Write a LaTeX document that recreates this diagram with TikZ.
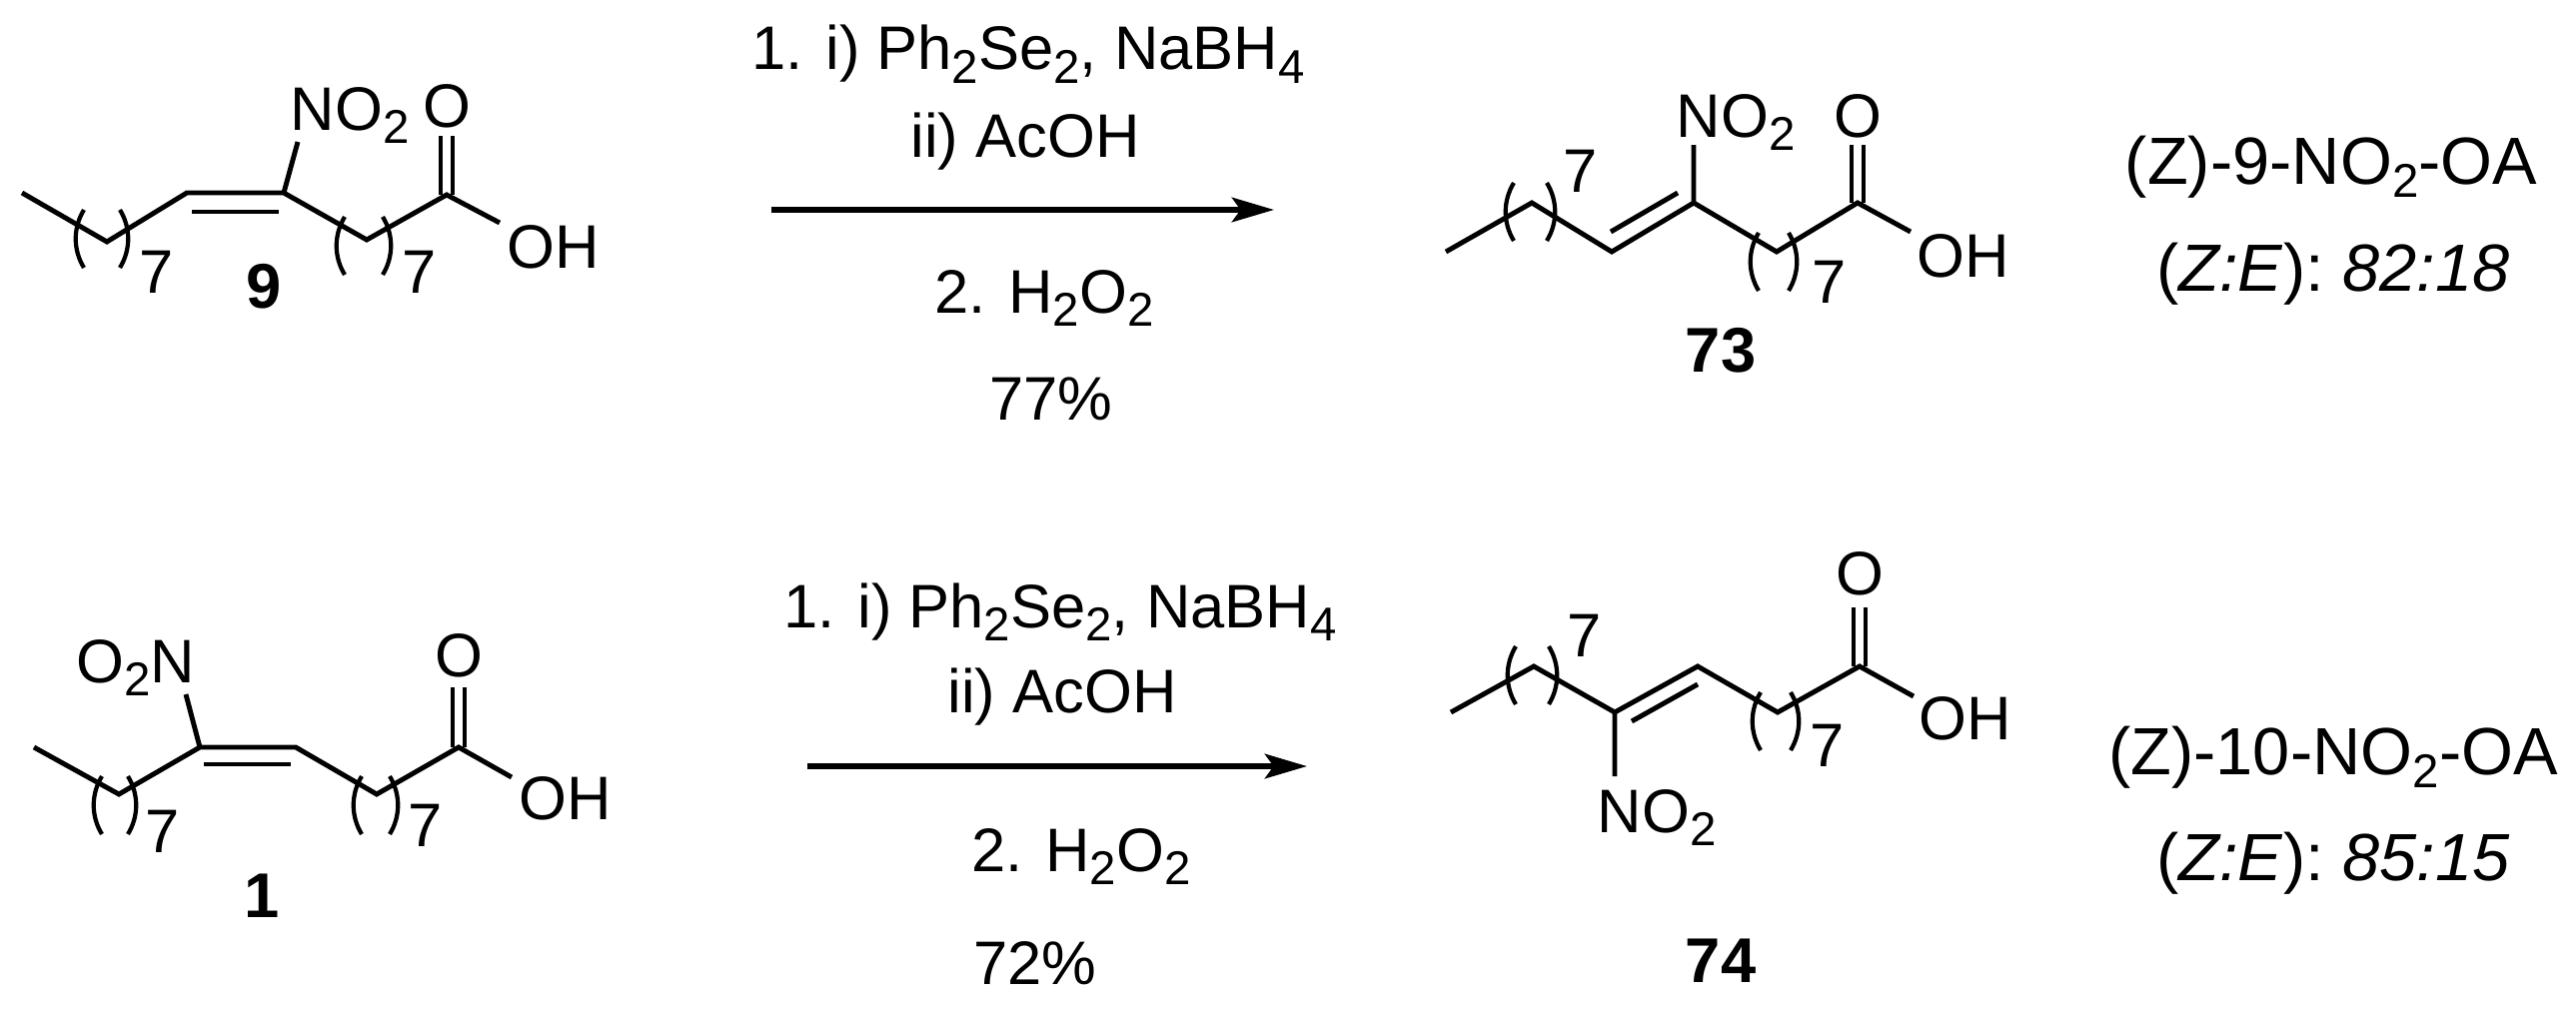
\documentclass[tikz,border=0pt]{standalone}
\usepackage{fontspec}
\setmainfont{Liberation Sans}
\usetikzlibrary{arrows.meta}
\newcommand\sbs[1]{\raisebox{-3.8pt}{\fontsize{13.5}{14}\selectfont #1}}
\begin{document}
\begin{tikzpicture}[x=0.01cm,y=-0.01cm,
  bond/.style={line width=1.4pt,line cap=butt,line join=miter},
  txt/.style={inner sep=0pt,font=\fontsize{17.5}{21}\selectfont},
  lab/.style={inner sep=0pt,font=\fontsize{18}{21}\selectfont\bfseries},
  big/.style={inner sep=0pt,font=\fontsize{19}{23}\selectfont},
  rxn/.style={line width=1.5pt,-{Triangle[length=12pt,width=7pt,inset=2.5pt]}}]
\useasboundingbox (0,0) rectangle (2578,1015);
\tikzset{lp/.pic={\draw[line width=1.2pt] (0,0) .. controls (-11,18) and (-11,40) .. (0,58);},
         rp/.pic={\draw[line width=1.2pt] (0,0) .. controls (11,18) and (11,40) .. (0,58);}}
% ---------- molecule 9 ----------
\coordinate (a1) at (22,193); \coordinate (a2) at (107,242); \coordinate (a3) at (187,193);
\coordinate (a4) at (284,193); \coordinate (a5) at (367,240); \coordinate (a6) at (447,195);
\coordinate (aN) at (298,142); \coordinate (aO) at (447,136); \coordinate (aOH) at (500,223);
\draw[bond] (a1)--(a2)--(a3)--(a4)--(a5)--(a6)--(aOH) (a4)--(aN);
\draw[bond] (192,212)--(279,212);
\draw[bond] (441,195)--(441,136) (453,195)--(453,136);
\node[txt,anchor=base west] (aNO2) at (290,130) {NO\sbs{2}};
\node[txt,anchor=base] (aOt) at (447,127) {O};
\node[txt,anchor=base west] (aOHt) at (507,268) {OH};
\pic at (84,210) {lp}; \pic at (120,210) {rp};
\pic at (345,217) {lp}; \pic at (383,217) {rp};
\node[txt,anchor=base west] (a7a) at (139,293) {7};
\node[txt,anchor=base west] (a7b) at (402,293) {7};
\node[lab,anchor=base] (l9) at (264,308) {9};
% ---------- molecule 73 ----------
\coordinate (b1) at (1447,252); \coordinate (b2) at (1533,203); \coordinate (b3) at (1613,252);
\coordinate (b4) at (1695,203); \coordinate (b5) at (1778,252); \coordinate (b6) at (1859,203);
\coordinate (bN) at (1695,145); \coordinate (bO) at (1859,145); \coordinate (bOH) at (1912,232);
\draw[bond] (b1)--(b2)--(b3)--(b4)--(b5)--(b6)--(bOH) (b4)--(bN);
\draw[bond] (1612,232)--(1679,193);
\draw[bond] (1853,203)--(1853,145) (1865,203)--(1865,145);
\node[txt,anchor=base west] (bNO2) at (1677,137) {NO\sbs{2}};
\node[txt,anchor=base] (bOt) at (1859,137) {O};
\node[txt,anchor=base west] (bOHt) at (1918,277) {OH};
\pic at (1515,183) {lp}; \pic at (1548,183) {rp};
\pic at (1760,233) {lp}; \pic at (1790,233) {rp};
\node[txt,anchor=base west] (b7a) at (1564,192) {7};
\node[txt,anchor=base west] (b7b) at (1813,303) {7};
\node[lab,anchor=base] (l73) at (1722,372) {73};
% ---------- molecule 1 ----------
\coordinate (c1) at (34,748); \coordinate (c2) at (119,795); \coordinate (c3) at (200,748);
\coordinate (c4) at (296,748); \coordinate (c5) at (377,795); \coordinate (c6) at (459,748);
\coordinate (cN) at (186,695); \coordinate (cO) at (459,688); \coordinate (cOH) at (512,778);
\draw[bond] (c1)--(c2)--(c3)--(c4)--(c5)--(c6)--(cOH) (c3)--(cN);
\draw[bond] (204,765)--(291,765);
\draw[bond] (453,748)--(453,688) (465,748)--(465,688);
\node[txt,anchor=base east] (cNO2) at (196,683) {O\sbs{2}N};
\node[txt,anchor=base] (cOt) at (459,677) {O};
\node[txt,anchor=base west] (cOHt) at (519,820) {OH};
\pic at (102,777) {lp}; \pic at (128,777) {rp};
\pic at (362,777) {lp}; \pic at (390,777) {rp};
\node[txt,anchor=base west] (c7a) at (145,853) {7};
\node[txt,anchor=base west] (c7b) at (408,847) {7};
\node[lab,anchor=base] (l1) at (262,918) {1};
% ---------- molecule 74 ----------
\coordinate (d1) at (1452,713); \coordinate (d2) at (1535,667); \coordinate (d3) at (1616,713);
\coordinate (d4) at (1699,667); \coordinate (d5) at (1779,713); \coordinate (d6) at (1861,667);
\coordinate (dN) at (1616,777); \coordinate (dO) at (1861,608); \coordinate (dOH) at (1915,697);
\draw[bond] (d1)--(d2)--(d3)--(d4)--(d5)--(d6)--(dOH) (d3)--(dN);
\draw[bond] (1633,722)--(1699,685);
\draw[bond] (1855,667)--(1855,608) (1867,667)--(1867,608);
\node[txt,anchor=base west] (dNO2) at (1598,833) {NO\sbs{2}};
\node[txt,anchor=base] (dOt) at (1861,595) {O};
\node[txt,anchor=base west] (dOHt) at (1920,740) {OH};
\pic at (1517,647) {lp}; \pic at (1550,647) {rp};
\pic at (1762,693) {lp}; \pic at (1792,693) {rp};
\node[txt,anchor=base west] (d7a) at (1568,657) {7};
\node[txt,anchor=base west] (d7b) at (1811,767) {7};
\node[lab,anchor=base] (l74) at (1722,983) {74};
% ---------- arrows & conditions ----------
\coordinate (r1s) at (772,210); \coordinate (r1e) at (1275,210);
\draw[rxn] (r1s)--(r1e);
\node[txt,anchor=base] (t1a) at (1029,70) {1. i) Ph\sbs{2}Se\sbs{2}, NaBH\sbs{4}};
\node[txt,anchor=base] (t1b) at (1026,157) {ii) AcOH};
\node[txt,anchor=base] (t1c) at (1045,313) {2. H\sbs{2}O\sbs{2}};
\node[txt,anchor=base] (t1d) at (1052,420) {77\%};
\coordinate (r2s) at (808,767); \coordinate (r2e) at (1308,767);
\draw[rxn] (r2s)--(r2e);
\node[txt,anchor=base] (t2a) at (1061,628) {1. i) Ph\sbs{2}Se\sbs{2}, NaBH\sbs{4}};
\node[txt,anchor=base] (t2b) at (1063,713) {ii) AcOH};
\node[txt,anchor=base] (t2c) at (1082,872) {2. H\sbs{2}O\sbs{2}};
\node[txt,anchor=base] (t2d) at (1036,985) {72\%};
% ---------- right labels ----------
\node[big,anchor=base] (n1) at (2333,184) {(Z)-9-NO\sbs{2}-OA};
\node[big,anchor=base] (n2) at (2335,291) {(\textit{Z:E}): \textit{82:18}};
\node[big,anchor=base] (n3) at (2335,775) {(Z)-10-NO\sbs{2}-OA};
\node[big,anchor=base] (n4) at (2335,881) {(\textit{Z:E}): \textit{85:15}};
\end{tikzpicture}
\end{document}
